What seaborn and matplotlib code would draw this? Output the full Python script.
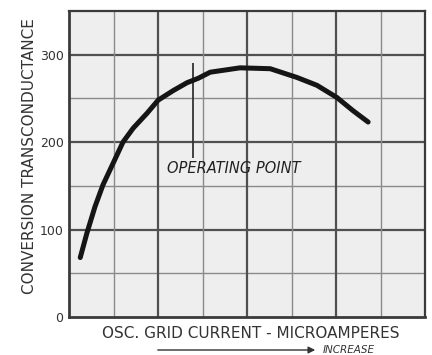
import numpy as np
import pandas as pd
import matplotlib
matplotlib.use("Agg")
import matplotlib.pyplot as plt
import seaborn as sns

# Conversion transconductance vs. oscillator grid current (relative units on x)
grid_current = [0.25, 0.40, 0.58, 0.76, 0.99, 1.21, 1.44, 1.75, 2.0, 2.34, 2.65, 2.90,
                3.17, 3.84, 4.52, 5.12, 5.57, 6.02, 6.38, 6.72]
transconductance = [68, 96, 126, 151, 176, 200, 216, 233, 248, 259, 268, 273,
                    280, 285, 284, 274, 265, 251, 236, 223]

y_ticks = [0, 100, 200, 300]
y_tick_labels = ["0", "100", "200", "300"]
operating_x = 2.79
operating_span = [182, 291]

df = pd.DataFrame({"current": grid_current, "gm": transconductance})

sns.set_theme(style="white")
plt.rcParams["font.family"] = ["DejaVu Sans"]

fig = plt.figure(figsize=(4.32, 3.55), dpi=100)
fig.patch.set_facecolor("white")
ax = fig.add_axes([0.16, 0.107, 0.824, 0.862])
ax.set_facecolor("#eeeeee")

ax.set_xlim(0, 8)
ax.set_ylim(0, 350)

# Graph-paper grid: heavier lines every 100 units / every other column
for yv in [50, 150, 250]:
    ax.axhline(yv, color="#8a8a8a", lw=1.0, zorder=1)
for yv in [100, 200, 300]:
    ax.axhline(yv, color="#505050", lw=1.6, zorder=1)
for xv in [1, 3, 5, 7]:
    ax.axvline(xv, color="#8a8a8a", lw=1.0, zorder=1)
for xv in [2, 4, 6]:
    ax.axvline(xv, color="#505050", lw=1.6, zorder=1)

sns.lineplot(data=df, x="current", y="gm", ax=ax, color="#151515", lw=3.6,
             zorder=3, sort=False)
ax.lines[-1].set_solid_capstyle("round")
ax.lines[-1].set_solid_joinstyle("round")

ax.vlines(operating_x, operating_span[0], operating_span[1], color="#333333", lw=1.3, zorder=2)
ax.text(2.2, 170, "OPERATING POINT", fontsize=10.5, style="italic", color="#222222",
        va="center", ha="left", zorder=4)

for side in ["left", "bottom", "right", "top"]:
    ax.spines[side].set_color("#3a3a3a")
    ax.spines[side].set_linewidth(2.0)
ax.spines["right"].set_linewidth(1.6)
ax.spines["top"].set_linewidth(1.6)

ax.set_xticks([])
ax.set_yticks(y_ticks)
ax.set_yticklabels(y_tick_labels, fontsize=9, color="#333333")
ax.tick_params(axis="y", length=0, pad=4)

ax.set_ylabel("CONVERSION TRANSCONDUCTANCE", fontsize=11, color="#333333")
ax.yaxis.set_label_coords(-0.09, 0.525)
ax.set_xlabel("OSC. GRID CURRENT - MICROAMPERES", fontsize=11, color="#333333")
ax.xaxis.set_label_coords(0.51, -0.03)

# Direction arrow below the x label
fig.add_artist(matplotlib.patches.FancyArrowPatch(
    (155 / 432, 1 - 350 / 355), (318 / 432, 1 - 350 / 355),
    transform=fig.transFigure, arrowstyle="-|>", mutation_scale=10,
    color="#333333", lw=1.0))
fig.text(323 / 432, 1 - 350 / 355, "INCREASE", fontsize=7.5, style="italic",
         color="#333333", va="center", ha="left")

fig.savefig("out.png", dpi=100)
